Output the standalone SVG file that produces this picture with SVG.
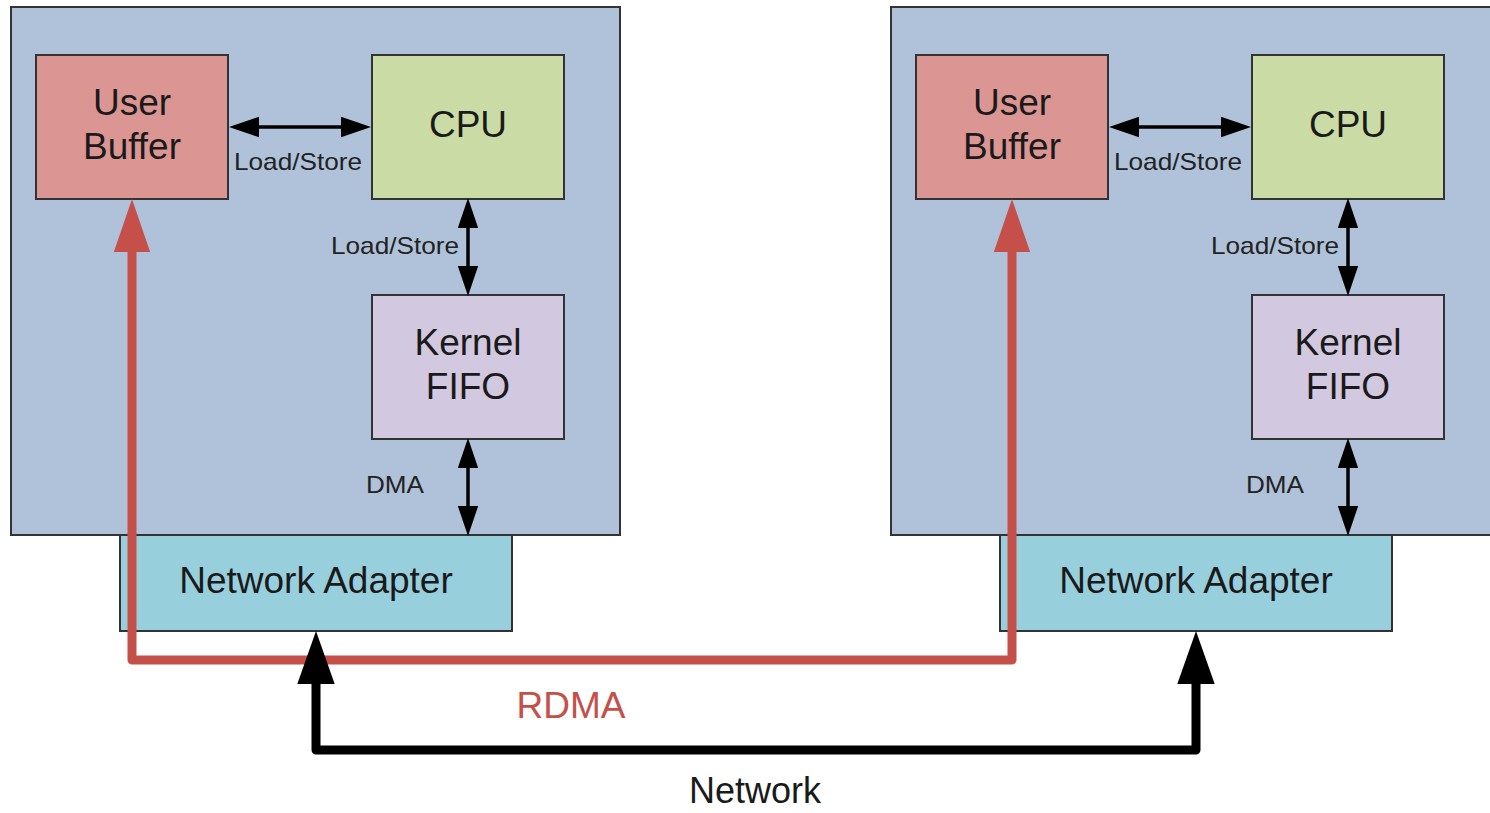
<svg xmlns="http://www.w3.org/2000/svg" width="1490" height="813" viewBox="0 0 1490 813">
  <style>
    .host { fill: #AFC2DA; stroke: #333; stroke-width: 2; }
    .ub { fill: #DB9592; stroke: #333; stroke-width: 2; }
    .cpu { fill: #CBDBA6; stroke: #333; stroke-width: 2; }
    .fifo { fill: #D2C8DF; stroke: #333; stroke-width: 2; }
    .na { fill: #98CFDD; stroke: #333; stroke-width: 2; }
    text { font-family: "Liberation Sans", Arial, sans-serif; fill: #1a1a1a; text-anchor: middle; }
    .big { font-size: 37px; }
    .small { font-size: 24px; fill: #222; }
    .thin { stroke: #000; stroke-width: 3.5; fill: none; }
    .rdma { stroke: #C5504A; stroke-width: 9; fill: none; stroke-linejoin: round; }
    .net { stroke: #000; stroke-width: 9; fill: none; stroke-linejoin: round; }
  </style>
  <defs>
    <marker id="sm" markerUnits="userSpaceOnUse" markerWidth="30" markerHeight="22" viewBox="0 -10 28 20" refX="0" refY="0" orient="auto-start-reverse">
      <path d="M0,-9.5 L28,0 L0,9.5 z" fill="#000"/>
    </marker>
    <marker id="redhead" markerUnits="userSpaceOnUse" markerWidth="54" markerHeight="38" viewBox="0 -18 52 36" refX="0" refY="0" orient="auto-start-reverse">
      <path d="M0,-17.5 L51,0 L0,17.5 z" fill="#C5504A"/>
    </marker>
    <marker id="blackhead" markerUnits="userSpaceOnUse" markerWidth="54" markerHeight="38" viewBox="0 -18 52 36" refX="0" refY="0" orient="auto-start-reverse">
      <path d="M0,-18 L51,0 L0,18 z" fill="#000"/>
    </marker>
  </defs>

  <!-- Left host -->
  <g id="host-left">
    <rect class="host" x="11" y="7" width="609" height="528"/>
  </g>
  <g id="ub-left">
    <rect class="ub" x="36" y="55" width="192" height="144"/>
    <text class="big" x="132" y="115">User</text>
    <text class="big" x="132" y="159">Buffer</text>
  </g>
  <g id="cpu-left">
    <rect class="cpu" x="372" y="55" width="192" height="144"/>
    <text class="big" x="468" y="137">CPU</text>
  </g>
  <g id="fifo-left">
    <rect class="fifo" x="372" y="295" width="192" height="144"/>
    <text class="big" x="468" y="355">Kernel</text>
    <text class="big" x="468" y="399">FIFO</text>
  </g>
  <g id="na-left">
    <rect class="na" x="120" y="535" width="392" height="96"/>
    <text class="big" x="316" y="593">Network Adapter</text>
  </g>

  <!-- Right host -->
  <g id="host-right">
    <rect class="host" x="891" y="7" width="609" height="528"/>
  </g>
  <g id="ub-right">
    <rect class="ub" x="916" y="55" width="192" height="144"/>
    <text class="big" x="1012" y="115">User</text>
    <text class="big" x="1012" y="159">Buffer</text>
  </g>
  <g id="cpu-right">
    <rect class="cpu" x="1252" y="55" width="192" height="144"/>
    <text class="big" x="1348" y="137">CPU</text>
  </g>
  <g id="fifo-right">
    <rect class="fifo" x="1252" y="295" width="192" height="144"/>
    <text class="big" x="1348" y="355">Kernel</text>
    <text class="big" x="1348" y="399">FIFO</text>
  </g>
  <g id="na-right">
    <rect class="na" x="1000" y="535" width="392" height="96"/>
    <text class="big" x="1196" y="593">Network Adapter</text>
  </g>

  <!-- Connectors -->
  <g id="connectors">
    <line class="thin" x1="259" y1="127" x2="341" y2="127" marker-start="url(#sm)" marker-end="url(#sm)"/>
    <line class="thin" x1="468" y1="228" x2="468" y2="266" marker-start="url(#sm)" marker-end="url(#sm)"/>
    <line class="thin" x1="468" y1="468" x2="468" y2="506" marker-start="url(#sm)" marker-end="url(#sm)"/>
    <line class="thin" x1="1139" y1="127" x2="1221" y2="127" marker-start="url(#sm)" marker-end="url(#sm)"/>
    <line class="thin" x1="1348" y1="228" x2="1348" y2="266" marker-start="url(#sm)" marker-end="url(#sm)"/>
    <line class="thin" x1="1348" y1="468" x2="1348" y2="506" marker-start="url(#sm)" marker-end="url(#sm)"/>

    <path class="rdma" d="M132,252 V660 H1012 V252" marker-start="url(#redhead)" marker-end="url(#redhead)"/>
    <path class="net" d="M316,684 V750 H1196 V684" marker-start="url(#blackhead)" marker-end="url(#blackhead)"/>

    <text class="small" x="298" y="170" textLength="128" lengthAdjust="spacingAndGlyphs">Load/Store</text>
    <text class="small" x="395" y="254" textLength="128" lengthAdjust="spacingAndGlyphs">Load/Store</text>
    <text class="small" x="395" y="493" textLength="58" lengthAdjust="spacingAndGlyphs">DMA</text>
    <text class="small" x="1178" y="170" textLength="128" lengthAdjust="spacingAndGlyphs">Load/Store</text>
    <text class="small" x="1275" y="254" textLength="128" lengthAdjust="spacingAndGlyphs">Load/Store</text>
    <text class="small" x="1275" y="493" textLength="58" lengthAdjust="spacingAndGlyphs">DMA</text>
    <text class="big" x="571" y="718" style="fill:#C5504A">RDMA</text>
    <text class="big" x="755" y="803" style="font-size:36px">Network</text>
  </g>
</svg>
